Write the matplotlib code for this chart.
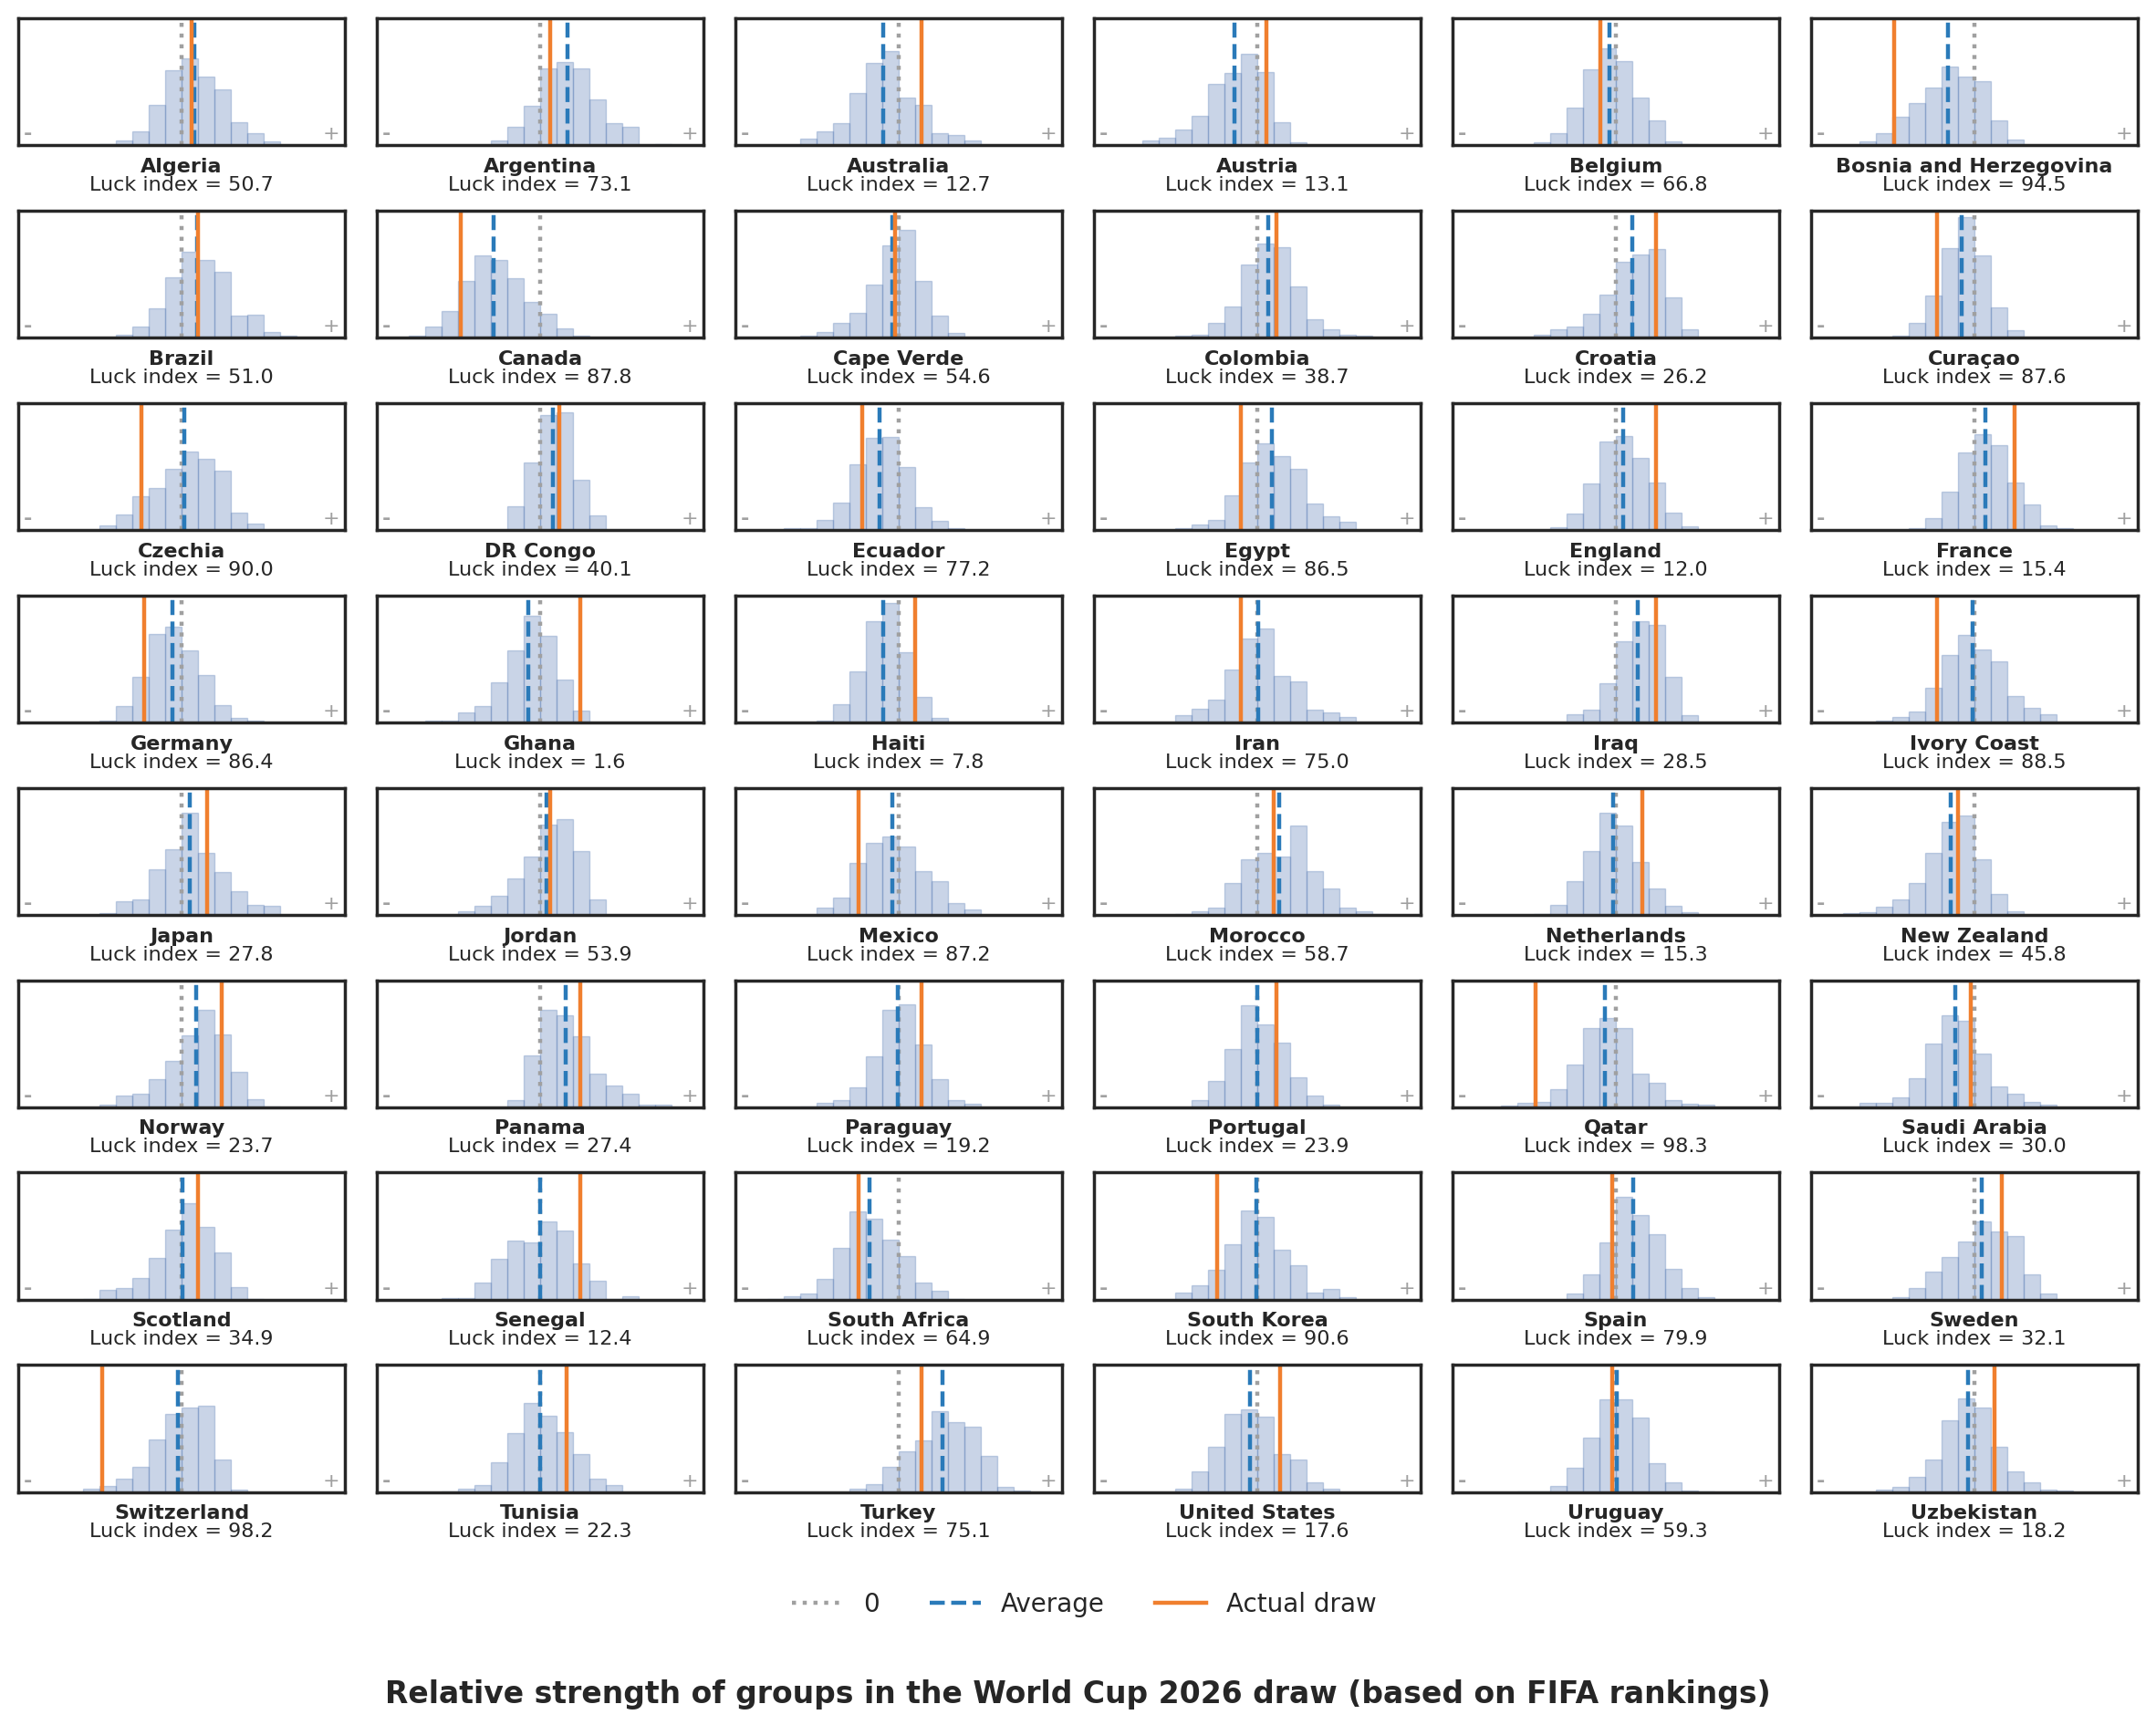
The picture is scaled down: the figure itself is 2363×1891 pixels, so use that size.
import matplotlib
matplotlib.use("Agg")
import matplotlib.pyplot as plt
from matplotlib.lines import Line2D

countries = [
    "Algeria", "Argentina", "Australia", "Austria", "Belgium", "Bosnia and Herzegovina",
    "Brazil", "Canada", "Cape Verde", "Colombia", "Croatia", "Curaçao",
    "Czechia", "DR Congo", "Ecuador", "Egypt", "England", "France",
    "Germany", "Ghana", "Haiti", "Iran", "Iraq", "Ivory Coast",
    "Japan", "Jordan", "Mexico", "Morocco", "Netherlands", "New Zealand",
    "Norway", "Panama", "Paraguay", "Portugal", "Qatar", "Saudi Arabia",
    "Scotland", "Senegal", "South Africa", "South Korea", "Spain", "Sweden",
    "Switzerland", "Tunisia", "Turkey", "United States", "Uruguay", "Uzbekistan",
]

luck_index = [
    50.7, 73.1, 12.7, 13.1, 66.8, 94.5,
    51.0, 87.8, 54.6, 38.7, 26.2, 87.6,
    90.0, 40.1, 77.2, 86.5, 12.0, 15.4,
    86.4, 1.6, 7.8, 75.0, 28.5, 88.5,
    27.8, 53.9, 87.2, 58.7, 15.3, 45.8,
    23.7, 27.4, 19.2, 23.9, 98.3, 30.0,
    34.9, 12.4, 64.9, 90.6, 79.9, 32.1,
    98.2, 22.3, 75.1, 17.6, 59.3, 18.2,
]

# average over simulated draws, and value for the real draw
average = [
    0.75, 1.65, -0.93, -1.40, -0.38, -1.62,
    0.92, -2.84, -0.38, 0.64, 1.02, -0.76,
    0.17, 0.80, -1.14, 0.89, 0.42, 0.64,
    -0.55, -0.72, -0.93, 0.04, 1.36, -0.13,
    0.50, 0.38, -0.38, 1.36, -0.17, -1.44,
    0.89, 1.53, -0.04, 0.00, -0.64, -1.19,
    0.04, 0.00, -1.78, -0.08, 1.06, 0.42,
    -0.20, 0.00, 2.67, -0.47, 0.08, -0.38,
]

actual = [
    0.62, 0.59, 1.40, 0.55, -0.97, -4.87,
    1.00, -4.83, -0.20, 1.19, 2.46, -2.25,
    -2.46, 1.19, -2.24, -1.02, 2.46, 2.42,
    -2.25, 2.46, 1.02, -1.02, 2.46, -2.25,
    1.57, 0.59, -2.46, 1.02, 1.61, -1.02,
    2.42, 2.46, 1.40, 1.14, -4.90, -0.21,
    1.02, 2.46, -2.46, -2.46, -0.21, 1.65,
    -4.85, 1.61, 1.40, 1.40, -0.21, 1.23,
]

# left edge of the first non-empty bin (bins are 1 wide)
first_bin = [
    -5, -3, -6, -7, -5, -7,
    -4, -8, -6, -5, -5, -5,
    -5, -2, -7, -5, -4, -4,
    -5, -7, -5, -5, -3, -6,
    -5, -5, -5, -5, -5, -8,
    -5, -2, -6, -4, -7, -7,
    -6, -6, -8, -5, -3, -5,
    -6, -6, -3, -5, -6, -6,
]

# share of simulated draws per bin
bin_heights = [
    [0.014, 0.043, 0.114, 0.318, 0.59, 0.682, 0.538, 0.44, 0.185, 0.098, 0.035],
    [0.04, 0.148, 0.312, 0.605, 0.655, 0.605, 0.36, 0.178, 0.148, 0, 0.01],
    [0.057, 0.114, 0.177, 0.41, 0.65, 0.74, 0.375, 0.318, 0.098, 0.084, 0.043],
    [0.043, 0.062, 0.127, 0.233, 0.484, 0.568, 0.723, 0.58, 0.185, 0.027],
    [0.022, 0.098, 0.3, 0.6, 0.76, 0.66, 0.375, 0.2, 0.035, 0.014],
    [0.033, 0.098, 0.227, 0.335, 0.457, 0.623, 0.544, 0.506, 0.2, 0.048],
    [0.027, 0.092, 0.235, 0.476, 0.68, 0.615, 0.516, 0.178, 0.184, 0.049, 0.019],
    [0.019, 0.086, 0.214, 0.446, 0.649, 0.614, 0.468, 0.284, 0.19, 0.078, 0.019],
    [0.019, 0.043, 0.12, 0.2, 0.42, 0.73, 0.85, 0.45, 0.178, 0.038],
    [0.014, 0.027, 0.114, 0.249, 0.573, 0.743, 0.714, 0.403, 0.143, 0.065, 0.022, 0.014],
    [0.027, 0.065, 0.092, 0.19, 0.34, 0.6, 0.657, 0.7, 0.32, 0.065],
    [0.014, 0.114, 0.332, 0.708, 0.946, 0.65, 0.24, 0.057],
    [0.041, 0.125, 0.27, 0.33, 0.48, 0.616, 0.56, 0.47, 0.14, 0.054],
    [0.185, 0.53, 0.905, 0.93, 0.40, 0.117],
    [0.019, 0.019, 0.08, 0.218, 0.518, 0.727, 0.73, 0.496, 0.183, 0.076, 0.019],
    [0.019, 0.046, 0.08, 0.275, 0.53, 0.68, 0.58, 0.482, 0.21, 0.11, 0.068],
    [0.025, 0.134, 0.368, 0.695, 0.738, 0.567, 0.376, 0.139, 0.033],
    [0.019, 0.098, 0.3, 0.61, 0.752, 0.668, 0.376, 0.204, 0.041, 0.019],
    [0.019, 0.13, 0.36, 0.696, 0.753, 0.567, 0.373, 0.137, 0.038, 0.016],
    [0.014, 0.019, 0.079, 0.13, 0.318, 0.567, 0.838, 0.68, 0.337, 0.096],
    [0.019, 0.145, 0.4, 0.8, 0.937, 0.553, 0.203, 0.036],
    [0.058, 0.11, 0.18, 0.416, 0.66, 0.74, 0.367, 0.323, 0.1, 0.08, 0.044],
    [0.066, 0.1, 0.31, 0.636, 0.795, 0.767, 0.36, 0.058],
    [0.014, 0.044, 0.088, 0.274, 0.53, 0.688, 0.573, 0.48, 0.208, 0.115, 0.066],
    [0.014, 0.107, 0.123, 0.358, 0.514, 0.8, 0.486, 0.336, 0.186, 0.08, 0.071],
    [0.027, 0.071, 0.15, 0.287, 0.456, 0.713, 0.75, 0.5, 0.123],
    [0.057, 0.137, 0.407, 0.57, 0.62, 0.54, 0.344, 0.265, 0.093, 0.044],
    [0.008, 0.027, 0.057, 0.25, 0.44, 0.49, 0.456, 0.7, 0.344, 0.208, 0.057, 0.027, 0.008],
    [0.008, 0.08, 0.265, 0.5, 0.8, 0.7, 0.42, 0.208, 0.071, 0.022],
    [0.014, 0.022, 0.063, 0.123, 0.25, 0.486, 0.73, 0.78, 0.44, 0.164, 0.027],
    [0.022, 0.09, 0.104, 0.219, 0.369, 0.568, 0.768, 0.574, 0.281, 0.068, 0.008],
    [0.055, 0.41, 0.768, 0.727, 0.56, 0.268, 0.17, 0.104, 0.025, 0.019],
    [0.008, 0.036, 0.06, 0.16, 0.404, 0.768, 0.81, 0.497, 0.224, 0.055, 0.027],
    [0.06, 0.205, 0.462, 0.803, 0.653, 0.51, 0.24, 0.096, 0.025],
    [0.014, 0.033, 0.04, 0.14, 0.34, 0.626, 0.7, 0.626, 0.268, 0.19, 0.055, 0.027, 0.019],
    [0.033, 0.038, 0.082, 0.232, 0.503, 0.724, 0.683, 0.426, 0.167, 0.109, 0.046, 0.025],
    [0.01, 0.075, 0.089, 0.169, 0.329, 0.553, 0.756, 0.575, 0.372, 0.097, 0.01],
    [0.017, 0.017, 0.133, 0.321, 0.466, 0.454, 0.618, 0.546, 0.285, 0.147, 0.007, 0.031],
    [0.007, 0.031, 0.046, 0.162, 0.408, 0.698, 0.64, 0.473, 0.343, 0.133, 0.068, 0.01],
    [0.06, 0.111, 0.234, 0.437, 0.705, 0.655, 0.394, 0.27, 0.06, 0.082, 0.024],
    [0.053, 0.198, 0.452, 0.807, 0.669, 0.517, 0.242, 0.089, 0.024],
    [0.024, 0.089, 0.22, 0.336, 0.459, 0.618, 0.539, 0.502, 0.198, 0.046],
    [0.027, 0.049, 0.107, 0.2, 0.417, 0.615, 0.667, 0.681, 0.255, 0.02],
    [0.007, 0.029, 0.058, 0.235, 0.466, 0.7, 0.604, 0.473, 0.3, 0.109, 0.058],
    [0.029, 0.066, 0.197, 0.32, 0.408, 0.633, 0.553, 0.517, 0.284, 0.044, 0.015],
    [0.029, 0.16, 0.357, 0.612, 0.648, 0.59, 0.3, 0.255, 0.08, 0.029],
    [0.007, 0.007, 0.05, 0.19, 0.43, 0.728, 0.728, 0.583, 0.226, 0.08, 0.015, 0.007],
    [0.022, 0.044, 0.117, 0.255, 0.568, 0.735, 0.663, 0.357, 0.167, 0.08, 0.022, 0.015],
]

dark = "#262626"
plt.rcParams["text.color"] = dark
plt.rcParams["axes.edgecolor"] = dark
plt.rcParams["axes.linewidth"] = 1.25

gray_c = "#a0a0a0"
blue_c = "#2a7ab9"
orange_c = "#f07f2e"

W, H = 2363, 1891
fig = plt.figure(figsize=(W / 200, H / 200), dpi=200)

for i, name in enumerate(countries):
    r, c = divmod(i, 6)
    left = 20.2 + 393.0 * c
    top = 20.0 + 210.9 * r
    ax = fig.add_axes([left / W, 1 - (top + 139.5) / H, 357.6 / W, 139.5 / H])

    heights = bin_heights[i]
    edges = [first_bin[i] + k for k in range(len(heights))]
    ax.bar(edges, heights, width=1, align="edge",
           color=(0.298, 0.447, 0.690, 0.3),
           edgecolor=(0.298, 0.447, 0.690, 0.3), linewidth=0.5)

    ax.axvline(0, color=gray_c, linestyle=":", linewidth=1.6)
    ax.axvline(average[i], color=blue_c, linestyle="--", linewidth=1.6)
    ax.axvline(actual[i], color=orange_c, linestyle="-", linewidth=1.6)

    ax.set_xlim(-9.93, 9.93)
    ax.set_ylim(0, 1)
    ax.set_xticks([])
    ax.set_yticks([])

    ax.annotate("-", xy=(0, 0), xycoords="axes fraction", xytext=(2.0, 4.4),
                textcoords="offset points", ha="left", va="center",
                color=gray_c, fontsize=8, fontweight="bold")
    ax.annotate("+", xy=(1, 0), xycoords="axes fraction", xytext=(-2.0, 4.4),
                textcoords="offset points", ha="right", va="center",
                color=gray_c, fontsize=8)

    ax.annotate(name, xy=(0.5, 0), xycoords="axes fraction", xytext=(0, -10.6),
                textcoords="offset points", ha="center", va="baseline",
                fontsize=8, fontweight="bold")
    ax.annotate(f"Luck index = {luck_index[i]:.1f}", xy=(0.5, 0),
                xycoords="axes fraction", xytext=(0, -17.8),
                textcoords="offset points", ha="center", va="baseline",
                fontsize=8)

handles = [
    Line2D([], [], color=gray_c, linestyle=":", linewidth=1.6),
    Line2D([], [], color=blue_c, linestyle="--", linewidth=1.6),
    Line2D([], [], color=orange_c, linestyle="-", linewidth=1.6),
]
fig.legend(handles, ["0", "Average", "Actual draw"], ncol=3, frameon=False,
           fontsize=10, loc="center", bbox_to_anchor=(0.503, 1 - 1759 / H))

fig.text(0.5, 1 - 1857 / H,
         "Relative strength of groups in the World Cup 2026 draw (based on FIFA rankings)",
         ha="center", va="center", fontsize=11.9, fontweight="bold")

fig.savefig("out.png", dpi=200)
